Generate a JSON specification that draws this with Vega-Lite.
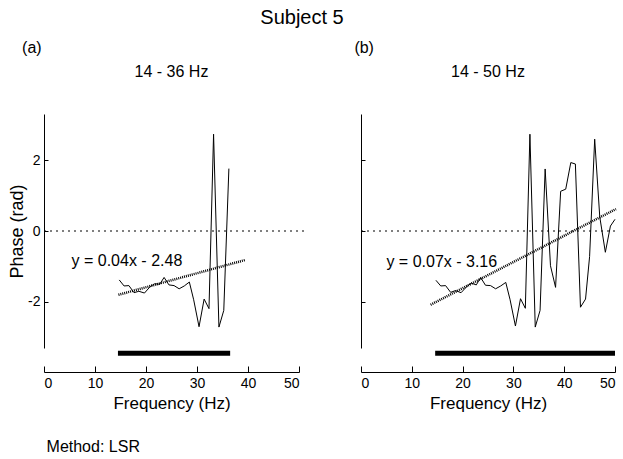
{
  "$schema": "https://vega.github.io/schema/vega-lite/v6.json",
  "background": "white",
  "padding": {"left": 8, "top": 8, "right": 0, "bottom": 0},
  "title": {"text": "Subject 5", "fontSize": 20, "fontWeight": "normal", "anchor": "middle", "dx": -11, "offset": 12, "color": "black", "font": "Liberation Sans"},
  "datasets": {
    "left": [
      {"f": 14.75, "phase": -1.38}, {"f": 15.7, "phase": -1.55}, {"f": 16.65, "phase": -1.54}, {"f": 17.65, "phase": -1.74},
      {"f": 18.6, "phase": -1.70}, {"f": 19.7, "phase": -1.75}, {"f": 20.8, "phase": -1.57}, {"f": 21.7, "phase": -1.49},
      {"f": 22.7, "phase": -1.50}, {"f": 23.55, "phase": -1.31}, {"f": 24.5, "phase": -1.52}, {"f": 25.5, "phase": -1.54},
      {"f": 26.5, "phase": -1.63}, {"f": 27.5, "phase": -1.55}, {"f": 28.5, "phase": -1.44}, {"f": 29.35, "phase": -1.94},
      {"f": 30.4, "phase": -2.70}, {"f": 31.4, "phase": -1.92}, {"f": 32.35, "phase": -2.19}, {"f": 33.25, "phase": 2.73},
      {"f": 34.3, "phase": -2.71}, {"f": 35.25, "phase": -2.24}, {"f": 36.25, "phase": 1.76}
    ],
    "right": [
      {"f": 14.75, "phase": -1.39}, {"f": 15.7, "phase": -1.55}, {"f": 16.65, "phase": -1.54}, {"f": 17.65, "phase": -1.73},
      {"f": 18.6, "phase": -1.68}, {"f": 19.7, "phase": -1.74}, {"f": 20.8, "phase": -1.57}, {"f": 21.7, "phase": -1.47},
      {"f": 22.7, "phase": -1.52}, {"f": 23.55, "phase": -1.31}, {"f": 24.5, "phase": -1.53}, {"f": 25.5, "phase": -1.54},
      {"f": 26.5, "phase": -1.63}, {"f": 27.5, "phase": -1.55}, {"f": 28.5, "phase": -1.45}, {"f": 29.35, "phase": -1.94},
      {"f": 30.4, "phase": -2.68}, {"f": 31.4, "phase": -1.91}, {"f": 32.35, "phase": -2.18}, {"f": 33.25, "phase": 2.73},
      {"f": 34.3, "phase": -2.71}, {"f": 35.25, "phase": -2.24}, {"f": 36.25, "phase": 1.75}, {"f": 37.3, "phase": -0.98},
      {"f": 38.3, "phase": -1.59}, {"f": 39.3, "phase": 1.12}, {"f": 40.3, "phase": 1.18}, {"f": 41.3, "phase": 1.93},
      {"f": 42.2, "phase": 1.89}, {"f": 43.2, "phase": -2.15}, {"f": 44.2, "phase": -1.92}, {"f": 45.0, "phase": -0.72},
      {"f": 46.0, "phase": 2.59}, {"f": 47.0, "phase": 0.40}, {"f": 48.1, "phase": -0.60}, {"f": 49.1, "phase": 0.14},
      {"f": 50.0, "phase": 0.33}
    ],
    "one": [{"k": 1}]
  },
  "spacing": 49,
  "hconcat": [
    {
      "width": 255,
      "height": 234,
      "layer": [
        {
          "data": {"name": "left"},
          "mark": {"type": "line", "color": "black", "strokeWidth": 1},
          "encoding": {
            "x": {"field": "f", "type": "quantitative", "title": "Frequency (Hz)", "scale": {"domain": [0, 50], "nice": false, "zero": false},
                  "axis": {"values": [0, 10, 20, 30, 40, 50], "offset": 24, "tickSize": -6, "labelPadding": 10, "titlePadding": 5}},
            "y": {"field": "phase", "type": "quantitative", "title": "Phase (rad)", "scale": {"domain": [-3.3, 3.3], "nice": false, "zero": false},
                  "axis": {"values": [-2, 0, 2], "tickSize": -4, "labelPadding": 8, "labelExpr": "datum.value", "titlePadding": 1, "titleFontSize": 18}}
          }
        },
        {
          "data": {"name": "one"},
          "mark": {"type": "rule", "color": "black", "strokeWidth": 1, "strokeDash": [2, 4]},
          "encoding": {
            "x": {"datum": 0, "type": "quantitative", "title": null},
            "x2": {"datum": 51},
            "y": {"datum": 0, "type": "quantitative", "title": null}
          }
        },
        {
          "data": {"name": "one"},
          "mark": {"type": "rule", "color": "black", "strokeWidth": 2.5, "strokeDash": [1, 1]},
          "encoding": {
            "x": {"datum": 14.6, "type": "quantitative", "title": null},
            "x2": {"datum": 39.4},
            "y": {"datum": -1.8, "type": "quantitative", "title": null},
            "y2": {"datum": -0.82}
          }
        },
        {
          "data": {"name": "one"},
          "mark": {"type": "rule", "color": "black", "strokeWidth": 5, "clip": false},
          "encoding": {
            "x": {"datum": 14.5, "type": "quantitative", "title": null},
            "x2": {"datum": 36.5},
            "y": {"datum": -3.45, "type": "quantitative", "title": null}
          }
        },
        {
          "data": {"name": "one"},
          "mark": {"type": "text", "align": "left", "baseline": "middle", "fontSize": 16, "color": "black", "font": "Liberation Sans"},
          "encoding": {
            "x": {"datum": 5.4, "type": "quantitative", "title": null},
            "y": {"datum": -0.85, "type": "quantitative", "title": null},
            "text": {"value": "y = 0.04x - 2.48"}
          }
        },
        {
          "data": {"name": "one"},
          "mark": {"type": "text", "align": "center", "baseline": "middle", "fontSize": 16, "color": "black", "font": "Liberation Sans"},
          "encoding": {
            "x": {"datum": 25, "type": "quantitative", "title": null},
            "y": {"datum": 4.48, "type": "quantitative", "title": null},
            "text": {"value": "14 - 36 Hz"}
          }
        },
        {
          "data": {"name": "one"},
          "mark": {"type": "text", "align": "left", "baseline": "middle", "fontSize": 16, "color": "black", "font": "Liberation Sans"},
          "encoding": {
            "x": {"datum": -4.3, "type": "quantitative", "title": null},
            "y": {"datum": 5.15, "type": "quantitative", "title": null},
            "text": {"value": "(a)"}
          }
        },
        {
          "data": {"name": "one"},
          "mark": {"type": "text", "align": "left", "baseline": "middle", "fontSize": 16, "color": "black", "font": "Liberation Sans"},
          "encoding": {
            "x": {"datum": 0.5, "type": "quantitative", "title": null},
            "y": {"datum": -6.08, "type": "quantitative", "title": null},
            "text": {"value": "Method: LSR"}
          }
        }
      ]
    },
    {
      "width": 254,
      "height": 234,
      "layer": [
        {
          "data": {"name": "right"},
          "mark": {"type": "line", "color": "black", "strokeWidth": 1},
          "encoding": {
            "x": {"field": "f", "type": "quantitative", "title": "Frequency (Hz)", "scale": {"domain": [0, 50], "nice": false, "zero": false},
                  "axis": {"values": [0, 10, 20, 30, 40, 50], "offset": 24, "tickSize": -6, "labelPadding": 10, "titlePadding": 5}},
            "y": {"field": "phase", "type": "quantitative", "title": null, "scale": {"domain": [-3.3, 3.3], "nice": false, "zero": false},
                  "axis": {"values": [-2, 0, 2], "tickSize": -4, "labels": false}}
          }
        },
        {
          "data": {"name": "one"},
          "mark": {"type": "rule", "color": "black", "strokeWidth": 1, "strokeDash": [2, 4]},
          "encoding": {
            "x": {"datum": 0, "type": "quantitative", "title": null},
            "x2": {"datum": 50},
            "y": {"datum": 0, "type": "quantitative", "title": null}
          }
        },
        {
          "data": {"name": "one"},
          "mark": {"type": "rule", "color": "black", "strokeWidth": 2.5, "strokeDash": [1, 1]},
          "encoding": {
            "x": {"datum": 13.7, "type": "quantitative", "title": null},
            "x2": {"datum": 50.2},
            "y": {"datum": -2.08, "type": "quantitative", "title": null},
            "y2": {"datum": 0.62}
          }
        },
        {
          "data": {"name": "one"},
          "mark": {"type": "rule", "color": "black", "strokeWidth": 5, "clip": false},
          "encoding": {
            "x": {"datum": 14.6, "type": "quantitative", "title": null},
            "x2": {"datum": 50},
            "y": {"datum": -3.45, "type": "quantitative", "title": null}
          }
        },
        {
          "data": {"name": "one"},
          "mark": {"type": "text", "align": "left", "baseline": "middle", "fontSize": 16, "color": "black", "font": "Liberation Sans"},
          "encoding": {
            "x": {"datum": 5.0, "type": "quantitative", "title": null},
            "y": {"datum": -0.87, "type": "quantitative", "title": null},
            "text": {"value": "y = 0.07x - 3.16"}
          }
        },
        {
          "data": {"name": "one"},
          "mark": {"type": "text", "align": "center", "baseline": "middle", "fontSize": 16, "color": "black", "font": "Liberation Sans"},
          "encoding": {
            "x": {"datum": 25, "type": "quantitative", "title": null},
            "y": {"datum": 4.48, "type": "quantitative", "title": null},
            "text": {"value": "14 - 50 Hz"}
          }
        },
        {
          "data": {"name": "one"},
          "mark": {"type": "text", "align": "left", "baseline": "middle", "fontSize": 16, "color": "black", "font": "Liberation Sans"},
          "encoding": {
            "x": {"datum": -1.3, "type": "quantitative", "title": null},
            "y": {"datum": 5.15, "type": "quantitative", "title": null},
            "text": {"value": "(b)"}
          }
        }
      ]
    }
  ],
  "config": {
    "view": {"stroke": null},
    "font": "Liberation Sans",
    "axis": {
      "grid": false,
      "domainColor": "black",
      "tickColor": "black",
      "labelColor": "black",
      "titleColor": "black",
      "labelFont": "Liberation Sans",
      "titleFont": "Liberation Sans",
      "labelFontSize": 14,
      "titleFontSize": 17,
      "titleFontWeight": "normal",
      "domainWidth": 1,
      "tickWidth": 1
    }
  }
}
